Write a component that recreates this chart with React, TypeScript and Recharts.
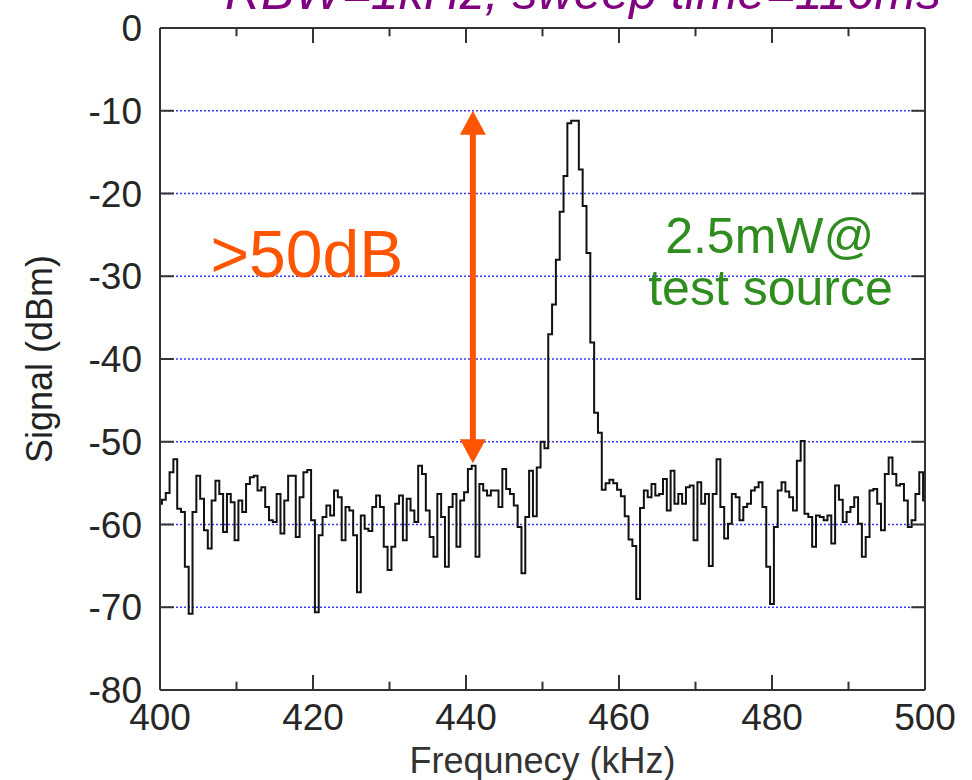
import { LineChart, Line, XAxis, YAxis, CartesianGrid, ReferenceLine, ReferenceDot, Label } from "recharts";

const FONT = "'Liberation Sans', Arial, Helvetica, sans-serif";
const ORANGE = "#ff5500";
const GREEN = "#2f8c1f";
const FRAME = "#333333";

const TITLE = "RBW=1kHz, sweep time=116ms";

// sweep points (kHz)
const FREQ_KHZ = [
   400, 400.5, 401, 401.5, 402, 402.5, 403, 403.5, 404, 404.5,
   405, 405.5, 406, 406.5, 407, 407.5, 408, 408.5, 409, 409.5,
   410, 410.5, 411, 411.5, 412, 412.5, 413, 413.5, 414, 414.5,
   415, 415.5, 416, 416.5, 417, 417.5, 418, 418.5, 419, 419.5,
   420, 420.5, 421, 421.5, 422, 422.5, 423, 423.5, 424, 424.5,
   425, 425.5, 426, 426.5, 427, 427.5, 428, 428.5, 429, 429.5,
   430, 430.5, 431, 431.5, 432, 432.5, 433, 433.5, 434, 434.5,
   435, 435.5, 436, 436.5, 437, 437.5, 438, 438.5, 439, 439.5,
   440, 440.5, 441, 441.5, 442, 442.5, 443, 443.5, 444, 444.5,
   445, 445.5, 446, 446.5, 447, 447.5, 448, 448.5, 449, 449.5,
   450, 450.5, 451, 451.5, 452, 452.5, 453, 453.5, 454, 454.5,
   455, 455.5, 456, 456.5, 457, 457.5, 458, 458.5, 459, 459.5,
   460, 460.5, 461, 461.5, 462, 462.5, 463, 463.5, 464, 464.5,
   465, 465.5, 466, 466.5, 467, 467.5, 468, 468.5, 469, 469.5,
   470, 470.5, 471, 471.5, 472, 472.5, 473, 473.5, 474, 474.5,
   475, 475.5, 476, 476.5, 477, 477.5, 478, 478.5, 479, 479.5,
   480, 480.5, 481, 481.5, 482, 482.5, 483, 483.5, 484, 484.5,
   485, 485.5, 486, 486.5, 487, 487.5, 488, 488.5, 489, 489.5,
   490, 490.5, 491, 491.5, 492, 492.5, 493, 493.5, 494, 494.5,
   495, 495.5, 496, 496.5, 497, 497.5, 498, 498.5, 499, 499.5,
   500,
];

// measured signal (dBm)
const SIGNAL_DBM = [
   -57.5, -57.0, -56.2, -53.7, -52.1, -58.1, -58.5, -65.1, -70.8, -58.5,
   -54.1, -56.9, -60.7, -62.9, -57.1, -54.7, -56.3, -60.9, -56.3, -57.3,
   -61.9, -57.1, -58.5, -55.1, -54.3, -54.1, -55.9, -55.5, -57.9, -59.5,
   -59.7, -56.3, -61.1, -57.1, -54.1, -54.1, -61.5, -56.7, -53.7, -53.4,
   -59.5, -70.6, -61.3, -59.1, -57.7, -58.9, -55.9, -56.7, -61.9, -57.9,
   -58.3, -61.3, -68.2, -58.9, -60.5, -60.8, -57.9, -56.5, -57.9, -62.7,
   -65.5, -62.7, -57.5, -56.5, -61.9, -56.9, -58.3, -59.7, -52.9, -53.9,
   -58.3, -61.5, -63.9, -56.3, -59.1, -65.1, -57.9, -56.3, -62.7, -57.1,
   -56.1, -53.3, -52.9, -63.9, -55.1, -55.9, -56.5, -55.9, -55.9, -57.9,
   -53.3, -55.7, -56.3, -57.7, -60.3, -65.9, -59.1, -53.5, -59.0, -53.1,
   -50.0, -50.8, -37.0, -33.4, -28.0, -22.2, -17.9, -11.5, -11.2, -11.2,
   -17.1, -21.5, -27.2, -38.0, -46.5, -48.9, -55.8, -55.0, -54.6, -55.0,
   -55.8, -56.6, -59.0, -61.8, -62.6, -69.0, -58.0, -55.9, -56.7, -55.1,
   -56.5, -56.3, -54.5, -58.3, -53.5, -57.5, -56.3, -57.5, -55.5, -55.3,
   -61.9, -54.9, -57.5, -56.3, -65.0, -56.3, -52.1, -57.9, -61.7, -59.9,
   -56.3, -56.7, -59.5, -57.9, -57.5, -55.9, -55.5, -54.9, -57.9, -65.1,
   -69.6, -60.3, -55.9, -54.9, -56.0, -56.7, -58.3, -52.3, -49.9, -58.7,
   -59.1, -62.7, -58.9, -59.1, -59.5, -58.9, -62.3, -55.3, -57.0, -59.7,
   -58.5, -57.9, -56.7, -59.9, -63.9, -61.5, -55.9, -55.7, -57.5, -60.7,
   -53.9, -51.9, -53.9, -55.3, -55.1, -57.1, -60.3, -59.5, -56.3, -53.7,
   -57.1,
];

const X_TICKS = [400, 420, 440, 460, 480, 500];
const X_MINOR_TICKS = [410, 430, 450, 470, 490];
const Y_TICKS = [-80, -70, -60, -50, -40, -30, -20, -10, 0];
const GRID_DBM = [-70, -60, -50, -40, -30, -20, -10];

// >50dB arrow (kHz, dBm)
const ARROW_KHZ = 440.9;
const ARROW_TOP_DBM = -10;
const ARROW_BOTTOM_DBM = -52.6;

// inward tick lengths in data units
const Y_TICK_LEN = 1.8;
const X_MAJOR_LEN = 1.8;
const X_MINOR_LEN = 1.0;

const chartData = FREQ_KHZ.map((f, i) => ({ freq: f, signal: SIGNAL_DBM[i] }));

const DoubleArrow = (props: any) => {
   const { x1, y1, y2 } = props;
   const top = Math.min(y1, y2);
   const bottom = Math.max(y1, y2);
   const head = 24;
   const half = 13;
   return (
      <g>
         <line x1={x1} y1={top + head - 2} x2={x1} y2={bottom - head + 2} stroke={ORANGE} strokeWidth={6} />
         <polygon points={`${x1},${top} ${x1 - half},${top + head} ${x1 + half},${top + head}`} fill={ORANGE} />
         <polygon points={`${x1},${bottom} ${x1 - half},${bottom - head} ${x1 + half},${bottom - head}`} fill={ORANGE} />
      </g>
   );
};

const YLabel = (props: any) => {
   const vb = props.viewBox || { x: 0, y: 28, width: 160, height: 662 };
   const cx = vb.x + 52;
   const cy = vb.y + vb.height / 2;
   return (
      <text x={cx} y={cy} transform={`rotate(-90 ${cx} ${cy})`} textAnchor="middle" fontSize={36} fill="#222" fontFamily={FONT}>
         Signal (dBm)
      </text>
   );
};

const App = () => {
   return (
      <div style={{ position: "absolute", left: 0, top: 0, width: 972, height: 780, background: "#fff" }}>
         <LineChart width={972} height={780} data={chartData} margin={{ top: 28, right: 47, bottom: 0, left: 0 }}>
            <CartesianGrid
               horizontal
               vertical={false}
               horizontalValues={GRID_DBM}
               stroke="#3a3ae8"
               strokeWidth={1.5}
               strokeDasharray="2 2"
            />
            <XAxis
               type="number"
               dataKey="freq"
               domain={[400, 500]}
               ticks={X_TICKS}
               interval={0}
               allowDataOverflow
               height={90}
               tickLine={false}
               tickSize={6}
               tickMargin={8}
               axisLine={{ stroke: FRAME, strokeWidth: 2 }}
               tick={{ fill: "#262626", fontSize: 37, fontFamily: FONT }}>
               <Label value="Frequnecy (kHz)" position="insideBottom" offset={7} fill="#333" fontSize={36} fontFamily={FONT} />
            </XAxis>
            <YAxis
               type="number"
               domain={[-80, 0]}
               ticks={Y_TICKS}
               interval={0}
               allowDataOverflow
               width={160}
               tickLine={false}
               tickSize={6}
               tickMargin={12}
               axisLine={{ stroke: FRAME, strokeWidth: 2 }}
               tick={{ fill: "#262626", fontSize: 37, fontFamily: FONT }}>
               <Label content={<YLabel />} />
            </YAxis>

            <Line type="step" dataKey="signal" stroke="#111" strokeWidth={2} dot={false} isAnimationActive={false} />

            {/* frame */}
            <ReferenceLine y={0} stroke={FRAME} strokeWidth={2} />
            <ReferenceLine x={500} stroke={FRAME} strokeWidth={2} />

            {/* inward ticks */}
            {GRID_DBM.map((v) => (
               <ReferenceLine key={`yl${v}`} segment={[{ x: 400, y: v }, { x: 400 + Y_TICK_LEN, y: v }]} stroke={FRAME} strokeWidth={2} />
            ))}
            {GRID_DBM.map((v) => (
               <ReferenceLine key={`yr${v}`} segment={[{ x: 500 - Y_TICK_LEN, y: v }, { x: 500, y: v }]} stroke={FRAME} strokeWidth={2} />
            ))}
            {X_TICKS.slice(1, -1).map((v) => (
               <ReferenceLine key={`xb${v}`} segment={[{ x: v, y: -80 }, { x: v, y: -80 + X_MAJOR_LEN }]} stroke={FRAME} strokeWidth={2} />
            ))}
            {X_TICKS.slice(1, -1).map((v) => (
               <ReferenceLine key={`xt${v}`} segment={[{ x: v, y: 0 }, { x: v, y: -X_MAJOR_LEN }]} stroke={FRAME} strokeWidth={2} />
            ))}
            {X_MINOR_TICKS.map((v) => (
               <ReferenceLine key={`mb${v}`} segment={[{ x: v, y: -80 }, { x: v, y: -80 + X_MINOR_LEN }]} stroke={FRAME} strokeWidth={2} />
            ))}
            {X_MINOR_TICKS.map((v) => (
               <ReferenceLine key={`mt${v}`} segment={[{ x: v, y: 0 }, { x: v, y: -X_MINOR_LEN }]} stroke={FRAME} strokeWidth={2} />
            ))}

            {/* annotations */}
            <ReferenceLine
               segment={[{ x: ARROW_KHZ, y: ARROW_TOP_DBM }, { x: ARROW_KHZ, y: ARROW_BOTTOM_DBM }]}
               stroke={ORANGE}
               shape={DoubleArrow}
            />
            <ReferenceDot
               x={419.2}
               y={-27.3}
               r={0}
               fill="none"
               stroke="none"
               label={{ value: ">50dB", position: "center", fill: ORANGE, fontSize: 66, fontFamily: FONT }}
            />
            <ReferenceDot
               x={479.7}
               y={-25.1}
               r={0}
               fill="none"
               stroke="none"
               label={{ value: "2.5mW@", position: "center", fill: GREEN, fontSize: 50, fontFamily: FONT }}
            />
            <ReferenceDot
               x={479.8}
               y={-31.3}
               r={0}
               fill="none"
               stroke="none"
               label={{ value: "test source", position: "center", fill: GREEN, fontSize: 50, fontFamily: FONT }}
            />

            <text x={583} y={9} textAnchor="middle" fontStyle="italic" fontSize={50} fill="#800080" fontFamily={FONT}>
               {TITLE}
            </text>
         </LineChart>
      </div>
   );
};

export default App;
